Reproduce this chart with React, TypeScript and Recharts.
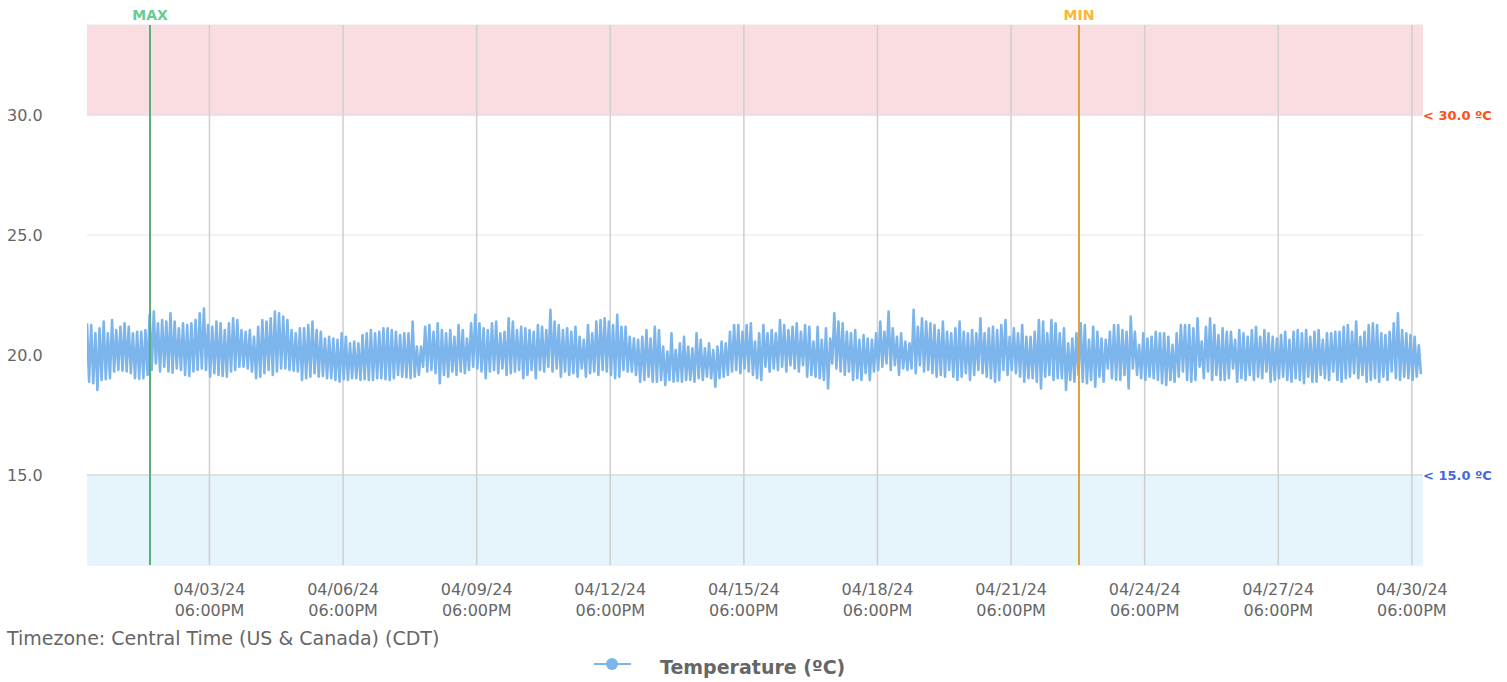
import React from 'react';
import {
  LineChart,
  Line,
  XAxis,
  YAxis,
  CartesianGrid,
  ReferenceArea,
  ReferenceLine,
  Label,
} from 'recharts';

// readings every 67.5 min, alternating high / low swing
const highsA = [
  21.32, 21.25, 20.9, 21.11, 21.39, 20.9, 21.46, 21.04, 21.18, 21.32,
  21.18, 20.9, 20.97, 20.97, 21.04, 21.67, 21.81, 21.32, 21.46, 21.39,
  21.74, 21.39, 21.11, 21.32, 21.25, 21.32, 21.46, 21.74, 21.94, 21.25,
  21.18, 21.39, 21.32, 21.04, 21.32, 21.53, 21.46, 21.04, 20.97, 21.04,
  20.76, 21.18, 21.46, 21.39, 21.53, 21.81, 21.74, 21.6, 21.46, 21.04,
  20.9, 21.11, 21.11, 21.25, 21.39, 21.04, 20.97, 20.69, 20.76, 20.69,
  20.63, 20.9, 20.76, 20.49, 20.56, 20.49, 20.83, 20.9, 21.04, 20.9,
  20.97, 21.11, 21.11, 21.04, 20.97, 20.83, 20.9, 20.9, 21.39, 20.35,
];
const lowsA = [
  18.89, 18.82, 18.54, 18.96, 18.99, 19.03, 19.31, 19.38, 19.35, 19.31,
  19.24, 19.03, 19.01, 19.03, 19.17, 19.38, 19.65, 19.31, 19.51, 19.31,
  19.26, 19.44, 19.38, 19.17, 19.13, 19.31, 19.38, 19.44, 19.38, 19.1,
  19.24, 19.17, 19.13, 19.1, 19.31, 19.38, 19.51, 19.51, 19.44, 19.31,
  19.03, 19.1, 19.24, 19.38, 19.17, 19.31, 19.44, 19.44, 19.38, 19.35,
  19.31, 18.96, 19.03, 19.1, 19.24, 19.1, 19.13, 19.03, 19.03, 18.96,
  18.89, 18.99, 18.96, 19.03, 19.03, 18.96, 18.99, 18.96, 18.96, 19.03,
  19.03, 18.99, 18.96, 19.03, 19.17, 19.1, 19.07, 19.03, 19.1, 19.17,
];
const highsB = [
  20.35, 21.18, 21.25, 20.97, 21.32, 21.04, 20.9, 21.04, 20.76, 21.25,
  21.04, 20.69, 21.32, 21.67, 21.32, 21.11, 21.04, 21.32, 21.39, 20.9,
  20.97, 21.53, 21.39, 21.04, 21.18, 21.11, 21.04, 20.97, 21.25, 21.18,
  21.04, 21.88, 21.39, 21.25, 21.04, 21.11, 20.97, 21.18, 20.76, 20.63,
  21.25, 20.9, 21.39, 21.46, 21.53, 21.39, 21.25, 21.67, 21.18, 21.18,
  20.76, 20.69, 20.63, 20.76, 21.04, 20.69, 21.18, 21.04, 20.35, 20.14,
  20.9, 20.21, 20.49, 20.76, 20.35, 20.28, 20.9, 20.63, 20.28, 20.49,
  20.21, 20.35, 20.56, 20.49, 20.97, 21.25, 21.25, 20.97, 21.25, 21.32,
];
const lowsB = [
  19.51, 19.31, 19.38, 19.24, 18.82, 19.17, 19.1, 19.31, 19.17, 19.31,
  19.24, 19.38, 19.51, 19.44, 19.31, 19.03, 19.31, 19.38, 19.24, 19.44,
  19.17, 19.24, 19.31, 19.38, 19.03, 19.17, 19.38, 19.03, 19.38, 19.31,
  19.51, 19.31, 19.44, 19.1, 19.31, 19.17, 19.24, 19.1, 19.44, 19.1,
  19.24, 19.31, 19.17, 19.38, 19.31, 19.17, 19.03, 19.1, 19.38, 19.31,
  19.31, 19.17, 18.89, 18.96, 19.1, 18.89, 18.89, 18.96, 18.75, 18.96,
  18.89, 18.92, 18.89, 18.96, 18.96, 18.89, 19.03, 18.96, 19.1, 19.03,
  18.68, 19.03, 19.1, 19.17, 19.31, 19.38, 19.24, 19.44, 19.31, 19.17,
];
const highsC = [
  20.56, 20.9, 21.25, 20.9, 21.04, 20.9, 21.46, 21.25, 21.04, 21.18,
  21.32, 20.97, 21.25, 21.18, 20.56, 21.18, 20.63, 21.11, 20.69, 21.74,
  21.39, 21.32, 20.97, 20.9, 21.04, 20.63, 20.83, 20.69, 20.63, 20.9,
  21.39, 20.97, 21.81, 21.11, 20.76, 20.9, 20.56, 20.49, 21.88, 21.18,
  21.53, 21.39, 21.32, 21.25, 21.04, 21.39, 20.97, 20.9, 21.11, 21.39,
  20.97, 20.9, 21.04, 20.9, 21.53, 20.9, 21.11, 21.18, 21.04, 21.25,
  21.46, 20.76, 21.11, 20.9, 21.25, 20.76, 20.76, 20.97, 21.46, 21.39,
  20.9, 21.46, 21.32, 20.9, 21.11, 20.49, 20.69, 20.9, 21.32, 21.25,
];
const lowsC = [
  19.03, 18.96, 19.51, 19.31, 19.44, 19.38, 19.51, 19.31, 19.58, 19.44,
  19.31, 19.58, 19.1, 19.17, 19.1, 19.03, 18.96, 18.61, 19.65, 19.44,
  19.31, 19.17, 19.31, 18.96, 19.03, 18.96, 19.24, 18.96, 19.31, 19.38,
  19.51, 19.65, 19.38, 19.58, 19.17, 19.44, 19.38, 19.44, 19.24, 19.58,
  19.31, 19.38, 19.24, 19.1, 19.17, 19.1, 19.38, 19.1, 18.96, 19.1,
  19.24, 18.96, 19.17, 19.38, 19.24, 19.1, 19.03, 18.89, 18.96, 19.38,
  19.17, 19.38, 19.24, 19.1, 18.89, 19.03, 19.03, 18.89, 18.61, 19.1,
  19.17, 18.96, 19.03, 19.03, 18.54, 18.96, 18.89, 19.17, 18.89, 18.82,
];
const highsD = [
  20.63, 21.18, 20.97, 20.69, 20.63, 20.97, 21.25, 21.25, 21.04, 20.97,
  21.6, 20.97, 20.42, 20.9, 20.69, 20.76, 20.97, 20.9, 20.9, 20.76,
  20.42, 20.9, 21.25, 21.25, 21.25, 21.11, 21.53, 20.56, 21.18, 21.53,
  21.25, 20.83, 21.11, 20.97, 20.97, 20.63, 21.04, 20.9, 20.76, 21.04,
  21.18, 20.76, 21.04, 20.9, 20.76, 20.69, 20.83, 20.97, 20.63, 20.97,
  21.04, 20.9, 21.04, 20.76, 20.97, 21.04, 20.63, 20.9, 20.9, 20.97,
  20.97, 21.18, 21.25, 20.97, 21.39, 20.76, 20.97, 21.25, 21.32, 21.25,
  20.9, 20.83, 20.97, 21.32, 21.74, 21.04, 20.9, 20.83, 20.76, 20.4,
];
const lowsD = [
  18.96, 18.68, 19.1, 18.89, 19.44, 19.03, 18.96, 18.96, 19.17, 18.61,
  19.44, 19.17, 19.03, 18.96, 19.1, 19.03, 18.96, 18.82, 18.75, 18.96,
  18.89, 19.1, 19.31, 18.96, 18.89, 18.96, 19.51, 19.03, 19.31, 18.96,
  19.17, 18.96, 18.96, 19.03, 19.44, 18.89, 19.03, 18.96, 19.17, 18.96,
  19.1, 19.03, 19.31, 18.89, 18.96, 19.03, 19.1, 18.96, 18.89, 19.03,
  18.96, 18.82, 19.1, 18.89, 18.89, 19.17, 19.03, 18.96, 19.31, 18.96,
  18.89, 19.03, 19.1, 19.24, 19.03, 19.17, 18.89, 18.96, 19.03, 18.89,
  19.1, 18.96, 19.31, 19.03, 18.96, 19.1, 19.03, 18.96, 19.1, 19.2,
];

const tickDates = [
  '2024-04-03T18:00Z', '2024-04-06T18:00Z', '2024-04-09T18:00Z', '2024-04-12T18:00Z',
  '2024-04-15T18:00Z', '2024-04-18T18:00Z', '2024-04-21T18:00Z', '2024-04-24T18:00Z',
  '2024-04-27T18:00Z', '2024-04-30T18:00Z',
];
const yTicks = [15, 20, 25, 30];
const maxAt = '2024-04-02T09:57Z';
const minAt = '2024-04-23T06:36Z';
const upperLimit = 30;
const lowerLimit = 15;

const START = Date.parse('2024-04-01T00:00Z');
const END = Date.parse('2024-05-01T00:00Z');
const STEP = 67.5 * 60 * 1000;

const highs = [...highsA, ...highsB, ...highsC, ...highsD];
const lows = [...lowsA, ...lowsB, ...lowsC, ...lowsD];
const data: { t: number; v: number }[] = [];
highs.forEach((h, i) => {
  data.push({ t: START + 2 * i * STEP, v: h });
  data.push({ t: START + (2 * i + 1) * STEP, v: lows[i] });
});
const ticks = tickDates.map((d) => Date.parse(d));

const FONT = '"DejaVu Sans", sans-serif';
const pad = (n: number) => String(n).padStart(2, '0');

const XTick = ({ x, y, payload }: any) => {
  const d = new Date(payload.value);
  const date = `${pad(d.getUTCMonth() + 1)}/${pad(d.getUTCDate())}/${String(d.getUTCFullYear()).slice(2)}`;
  const h = d.getUTCHours();
  const time = `${pad(h % 12 === 0 ? 12 : h % 12)}:${pad(d.getUTCMinutes())}${h >= 12 ? 'PM' : 'AM'}`;
  return (
    <g>
      <text x={x} y={y + 30} textAnchor="middle" fill="#666666" fontSize={16} fontFamily={FONT}>
        {date}
      </text>
      <text x={x} y={y + 51} textAnchor="middle" fill="#666666" fontSize={16} fontFamily={FONT}>
        {time}
      </text>
    </g>
  );
};

const YTick = ({ y, payload }: any) => (
  <text x={7} y={y + 5.5} textAnchor="start" fill="#666666" fontSize={16} fontFamily={FONT}>
    {Number(payload.value).toFixed(1)}
  </text>
);

export default function App() {
  return (
    <div style={{ position: 'absolute', left: 0, top: 0, width: 1507, height: 682 }}>
      <LineChart
        width={1507}
        height={682}
        data={data}
        margin={{ top: 25, right: 84, bottom: 57, left: 0 }}
      >
        <CartesianGrid vertical={false} stroke="#e6e6e6" />
        <XAxis
          dataKey="t"
          type="number"
          domain={[START, END]}
          ticks={ticks}
          tick={<XTick />}
          tickSize={0}
          tickMargin={0}
          axisLine={false}
          tickLine={false}
          height={60}
          allowDataOverflow
        />
        <YAxis
          type="number"
          domain={[11.25, 33.75]}
          ticks={yTicks}
          tick={<YTick />}
          axisLine={false}
          tickLine={false}
          width={87}
          allowDataOverflow
        />
        <ReferenceArea y1={upperLimit} y2={33.75} fill="#f9dde1" fillOpacity={1} stroke="none" />
        <ReferenceArea y1={11.25} y2={lowerLimit} fill="#e6f4fc" fillOpacity={1} stroke="none" />
        {ticks.map((t) => (
          <ReferenceLine key={t} x={t} stroke="#cfcfcf" strokeWidth={1.5} />
        ))}
        <ReferenceLine y={upperLimit} stroke="#dedede">
          <Label
            value={`< ${upperLimit.toFixed(1)} ºC`}
            position="right"
            offset={0}
            fill="#ff4f1a"
            fontSize={13}
            fontWeight="bold"
            fontFamily={FONT}
          />
        </ReferenceLine>
        <ReferenceLine y={lowerLimit} stroke="#d0d0d0">
          <Label
            value={`< ${lowerLimit.toFixed(1)} ºC`}
            position="right"
            offset={0}
            fill="#4169e1"
            fontSize={13}
            fontWeight="bold"
            fontFamily={FONT}
          />
        </ReferenceLine>
        <Line
          type="linear"
          dataKey="v"
          stroke="#7cb5ec"
          strokeWidth={2.6}
          strokeLinejoin="round"
          dot={false}
          isAnimationActive={false}
        />
        <ReferenceLine x={Date.parse(maxAt)} stroke="#5aae7e" strokeWidth={2}>
          <Label value="MAX" position="top" offset={5} fill="#66cc8f" fontSize={14} fontWeight="bold" fontFamily={FONT} />
        </ReferenceLine>
        <ReferenceLine x={Date.parse(minAt)} stroke="#dfa040" strokeWidth={2}>
          <Label value="MIN" position="top" offset={5} fill="#f7b733" fontSize={14} fontWeight="bold" fontFamily={FONT} />
        </ReferenceLine>
      </LineChart>
      <svg
        width={1507}
        height={682}
        style={{ position: 'absolute', left: 0, top: 0, pointerEvents: 'none' }}
      >
        <text x={7} y={645} fill="#666666" fontSize={19} fontFamily={FONT}>
          Timezone: Central Time (US &amp; Canada) (CDT)
        </text>
        <line x1={594} x2={631} y1={664} y2={664} stroke="#7cb5ec" strokeWidth={2} />
        <circle cx={612} cy={664} r={6} fill="#7cb5ec" />
        <text x={660} y={674} fill="#666666" fontSize={19} fontWeight="bold" fontFamily={FONT}>
          Temperature (ºC)
        </text>
      </svg>
    </div>
  );
}
